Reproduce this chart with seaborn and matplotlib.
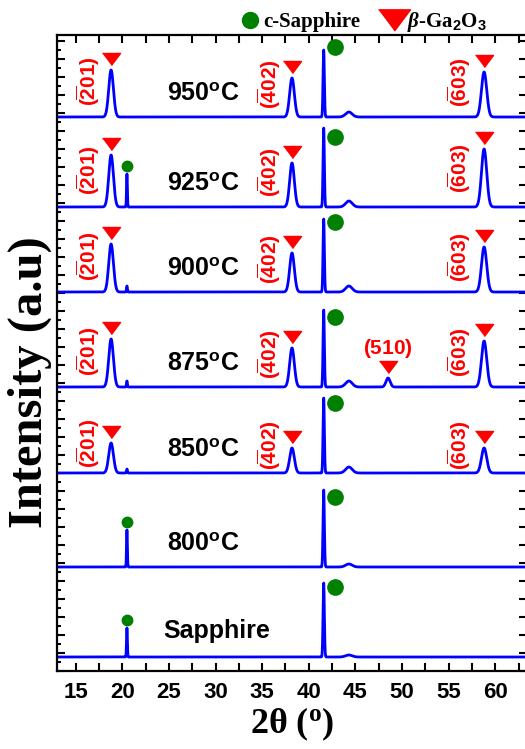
import numpy as np
import pandas as pd
import matplotlib
matplotlib.use("Agg")
import matplotlib.pyplot as plt
from matplotlib.lines import Line2D
from matplotlib.ticker import MultipleLocator
import seaborn as sns

sns.set_style("ticks", {'axes.edgecolor': 'black', 'text.color': 'black',
                        'axes.labelcolor': 'black', 'xtick.color': 'black',
                        'ytick.color': 'black'})
plt.rcParams['font.family'] = ['Liberation Sans', 'DejaVu Sans']
plt.rcParams['mathtext.fontset'] = 'custom'
plt.rcParams['mathtext.rm'] = 'Liberation Sans'
plt.rcParams['mathtext.bf'] = 'Liberation Sans:bold'
plt.rcParams['mathtext.it'] = 'Liberation Serif:italic:bold'

# traces, bottom to top
samples = ['Sapphire', '800', '850', '875', '900', '925', '950']
offsets = [14, 104, 198, 284, 379, 464, 554]

# peak centres (2theta, deg)
pos_201 = 18.8
pos_402 = 38.2
pos_603 = 58.8
pos_510 = 48.5
pos_sub = 41.6    # c-sapphire (006)
pos_sub2 = 20.5   # small sapphire line
pos_hump = 44.3

# peak heights per trace (a.u.)
h_201 = [0, 0, 30, 48, 48, 52, 47]
h_402 = [0, 0, 25, 39, 39, 44, 39]
h_603 = [0, 0, 25, 46, 45, 58, 45]
h_510 = [0, 0, 0, 9, 0, 0, 0]
h_sub = [74, 77, 75, 77, 73, 79, 67]
h_sub2 = [29, 37, 4, 6, 6, 33, 0]
h_hump = [2, 3, 6, 6, 6, 6, 5]

BLUE = '#0000ff'
RED = '#ff0000'
GREEN = '#008000'
TRI = [(-1.5, 1), (1.5, 1), (0, -1)]


def gauss(x, c, h, s):
    return h * np.exp(-0.5 * ((x - c) / s) ** 2)


tt = np.linspace(13, 63.4, 5000)
rows = []
for i, name in enumerate(samples):
    y = (offsets[i]
         + gauss(tt, pos_201, h_201[i], 0.25)
         + gauss(tt, pos_402, h_402[i], 0.25)
         + gauss(tt, pos_603, h_603[i], 0.28)
         + gauss(tt, pos_510, h_510[i], 0.22)
         + gauss(tt, pos_sub, h_sub[i], 0.07)
         + gauss(tt, pos_sub2, h_sub2[i], 0.045)
         + gauss(tt, pos_hump, h_hump[i], 0.35))
    rows.append(pd.DataFrame({'sample': name, 'two_theta': tt, 'intensity': y}))
df = pd.concat(rows, ignore_index=True)

fig = plt.figure(figsize=(5.25, 7.49), dpi=100)
ax = fig.add_axes([57 / 525, 78 / 749, 470 / 525, 636 / 749])

sns.lineplot(data=df, x='two_theta', y='intensity', units='sample', estimator=None,
             sort=False, color=BLUE, lw=2.0, legend=False, ax=ax)

ax.set_xlim(13, 63.4)
ax.set_ylim(0, 636)

hkl = {'201': r'$\mathbf{(\overline{2}01)}$',
       '402': r'$\mathbf{(\overline{4}02)}$',
       '603': r'$\mathbf{(\overline{6}03)}$'}

for i, name in enumerate(samples):
    base = offsets[i]
    # temperature label
    if name == 'Sapphire':
        ax.text(24.4, base + 26, 'Sapphire', fontsize=18, fontweight='bold',
                ha='left', va='center')
    else:
        ax.text(24.8, base + 23, name + r'$^{\mathbf{o}}$C', fontsize=18,
                fontweight='bold', ha='left', va='center')
    # sapphire substrate dot
    ax.plot(42.8, base + 70, 'o', color=GREEN, ms=11, clip_on=False)
    if name in ('Sapphire', '800', '925'):
        ax.plot(pos_sub2, base + h_sub2[i] + 8, 'o', color=GREEN, ms=7.5)
    # Ga2O3 peaks
    for key, pos, hh, dx in (('201', pos_201, h_201, 2.4),
                             ('402', pos_402, h_402, 2.4),
                             ('603', pos_603, h_603, 2.7)):
        if hh[i] > 0:
            ax.plot(pos, base + hh[i] + 11, marker=TRI, color=RED, ms=13, ls='none')
            ax.text(pos - dx, base + 0.35 * hh[i] + 19, hkl[key], color=RED,
                    fontsize=15, rotation=90, ha='center', va='center')
    if h_510[i] > 0:
        ax.plot(pos_510, base + h_510[i] + 11, marker=TRI, color=RED, ms=13, ls='none')
        ax.text(pos_510, base + 39, r'$\mathbf{(510)}$', color=RED, fontsize=15,
                ha='center', va='center')

ax.xaxis.set_major_locator(MultipleLocator(5))
ax.xaxis.set_minor_locator(MultipleLocator(2.5))
ax.yaxis.set_major_locator(MultipleLocator(18))
ax.yaxis.set_minor_locator(MultipleLocator(9))
ax.tick_params(which='both', direction='in', top=True, right=True, width=1.5,
               color='black')
ax.tick_params(which='major', length=6)
ax.tick_params(which='minor', length=6, axis='x')
ax.tick_params(which='minor', length=3, axis='y', right=False)
ax.tick_params(axis='x', pad=8, labelcolor='black')
ax.set_yticklabels([])
for lab in ax.get_xticklabels():
    lab.set_fontsize(16)
    lab.set_fontweight('bold')
for sp in ax.spines.values():
    sp.set_linewidth(1.6)
    sp.set_color('black')

ax.set_ylabel('')
ax.set_xlabel('2θ ($^{\\mathregular{o}}$)', fontsize=26, fontweight='bold',
              family=['Liberation Serif'], labelpad=2, color='black')
fig.text(30 / 525, 1 - 382 / 749, 'Intensity (a.u)', rotation=90, fontsize=35,
         fontweight='bold', family=['Liberation Serif'], ha='center', va='center',
         color='black')

handles = [Line2D([], [], marker='o', color=GREEN, ms=11.5, ls='none'),
           Line2D([], [], marker=TRI, color=RED, ms=23, ls='none')]
labels = ['c-Sapphire', r'$\beta$-Ga$_{\mathbf{2}}$O$_{\mathbf{3}}$']
leg = fig.legend(handles, labels, loc='center', bbox_to_anchor=(0.69, 0.97), ncol=2,
                 frameon=False, handletextpad=0.05, columnspacing=1.0, handlelength=1.2,
                 prop={'family': 'Liberation Serif', 'weight': 'bold', 'size': 15})
for t in leg.get_texts():
    t.set_color('black')

fig.savefig('out.png', dpi=100)
